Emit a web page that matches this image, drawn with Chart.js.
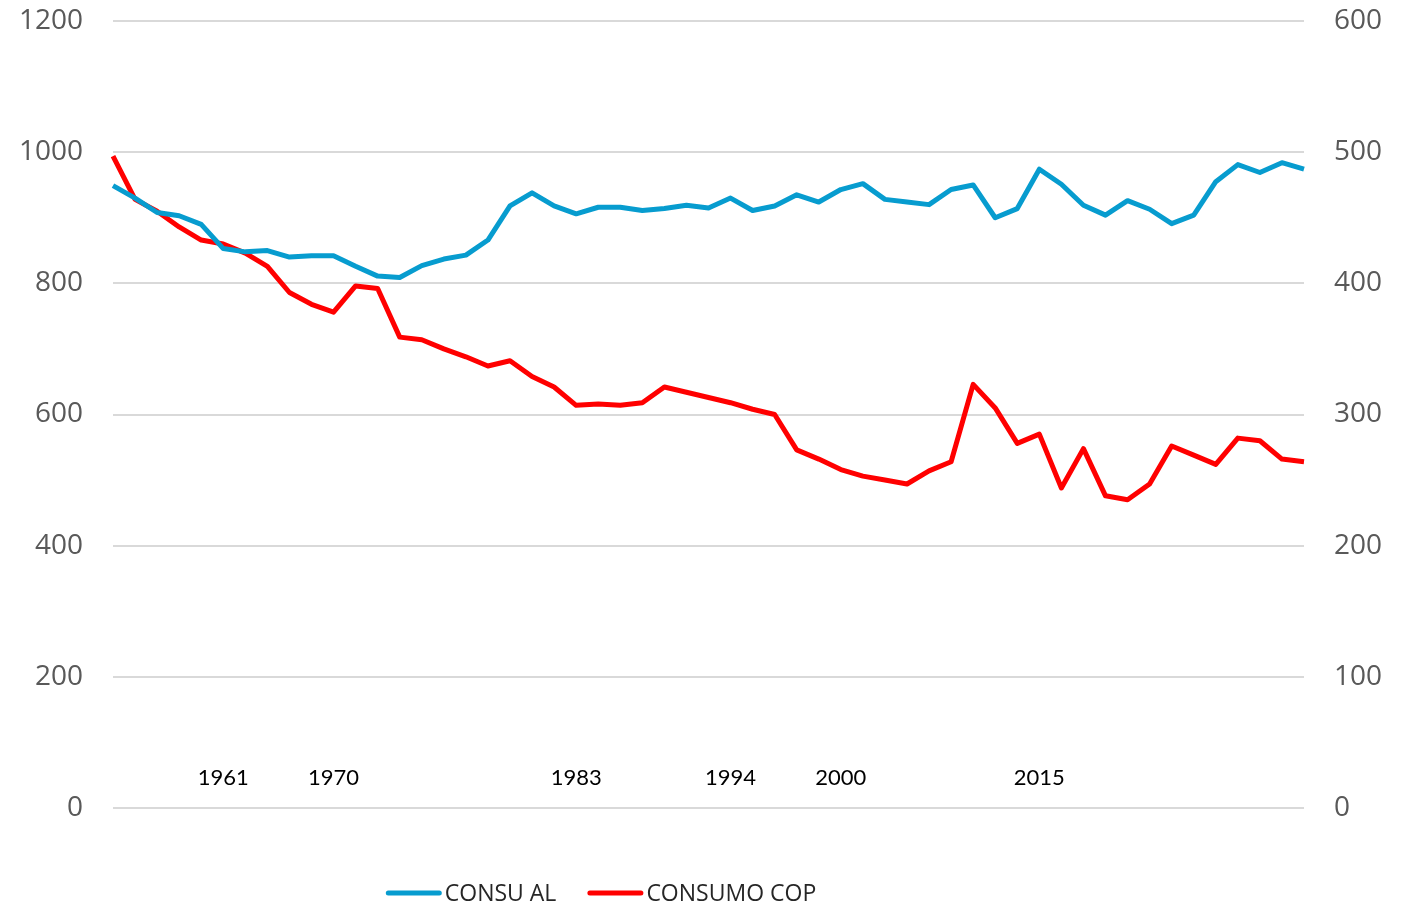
<!DOCTYPE html>
<html>
<head>
<meta charset="utf-8">
<script src="https://cdn.jsdelivr.net/npm/chart.js@4/dist/chart.umd.min.js"></script>
<style>
  html, body { margin: 0; padding: 0; background: #ffffff; }
  #wrap { width: 1412px; height: 904px; }
</style>
</head>
<body>
<div id="wrap"><canvas id="c" width="1412" height="904"></canvas></div>
<script>
// ---- data ----
const categories = [
  "", "", "", "", "", "1961", "", "", "", "", "1970", "", "", "", "",
  "", "", "", "", "", "", "1983", "", "", "", "", "", "", "1994", "",
  "", "", "", "2000", "", "", "", "", "", "", "", "", "2015", "", "",
  "", "", "", "", "", "", "", "", "", ""
];
const seriesNames = ["CONSU AL", "CONSUMO COP"];
const consuAl = [
  949, 930, 908, 903, 890, 853, 848, 850, 840, 842, 842, 826, 811, 809, 827,
  837, 843, 866, 918, 938, 918, 906, 916, 916, 911, 914, 919, 915, 930, 911,
  918, 935, 924, 943, 952, 928, 924, 920, 943, 950, 900, 914, 974, 951, 919,
  904, 926, 913, 891, 904, 955, 981, 969, 984, 974
];
const consumoCop = [
  497, 464, 455, 443, 433, 430, 423, 413, 393, 384, 378, 398, 396, 359, 357,
  350, 344, 337, 341, 329, 321, 307, 308, 307, 309, 321, 317, 313, 309, 304,
  300, 273, 266, 258, 253, 250, 247, 257, 264, 323, 305, 278, 285, 244, 274,
  238, 235, 247, 276, 269, 262, 282, 280, 266, 264
];
const leftTicks = { min: 0, max: 1200, step: 200 };
const rightTicks = { min: 0, max: 600, step: 100 };

// ---- styles ----
const BLUE = '#079CCF';
const RED = '#FF0000';
const GRID = '#D9D9D9';
const AXIS_TEXT = '#595959';

// custom legend drawn below the plot
const bottomLegend = {
  id: 'bottomLegend',
  afterDraw(chart) {
    const ctx = chart.ctx;
    const lineLen = 56, gap = 3, itemGap = 31, cy = 893, centerX = 601;
    ctx.save();
    ctx.font = '23px "Open Sans"';
    ctx.textBaseline = 'middle';
    const items = chart.data.datasets.map(ds => ({
      text: ds.label, color: ds.borderColor, w: ctx.measureText(ds.label).width
    }));
    let total = 0;
    items.forEach((it, i) => { total += lineLen + gap + it.w + (i ? itemGap : 0); });
    let x = centerX - total / 2;
    items.forEach(it => {
      ctx.strokeStyle = it.color;
      ctx.lineWidth = 5;
      ctx.lineCap = 'round';
      ctx.beginPath();
      ctx.moveTo(x + 2.5, cy);
      ctx.lineTo(x + lineLen - 2.5, cy);
      ctx.stroke();
      ctx.fillStyle = '#262626';
      ctx.textAlign = 'left';
      ctx.fillText(it.text, x + lineLen + gap, cy + 1);
      x += lineLen + gap + it.w + itemGap;
    });
    ctx.restore();
  }
};

function fixVertical(width) {
  return function (scale) {
    scale.width = width;
    scale.paddingTop = 0;
    scale.paddingBottom = 0;
  };
}

new Chart(document.getElementById('c'), {
  type: 'line',
  data: {
    labels: categories,
    datasets: [
      {
        label: seriesNames[0], data: consuAl, yAxisID: 'y',
        borderColor: BLUE, backgroundColor: BLUE, borderWidth: 5,
        pointRadius: 0, tension: 0, borderJoinStyle: 'round', fill: false
      },
      {
        label: seriesNames[1], data: consumoCop, yAxisID: 'y1',
        borderColor: RED, backgroundColor: RED, borderWidth: 5,
        pointRadius: 0, tension: 0, borderJoinStyle: 'round', fill: false
      }
    ]
  },
  options: {
    responsive: false,
    animation: false,
    events: [],
    layout: { padding: { top: 21, bottom: 96, left: 0, right: 0 } },
    plugins: { legend: { display: false }, tooltip: { enabled: false } },
    scales: {
      x: {
        type: 'category',
        axis: 'x',
        position: { y: 66 },
        offset: false,
        grid: { display: false, drawTicks: false },
        border: { display: false },
        ticks: {
          autoSkip: false, maxRotation: 0, minRotation: 0, padding: 0,
          color: '#000000', font: { family: 'Lato', size: 22 }
        }
      },
      y: {
        position: 'left',
        min: leftTicks.min, max: leftTicks.max,
        grid: { color: GRID, lineWidth: 2, drawTicks: false },
        border: { display: false },
        ticks: {
          stepSize: leftTicks.step, padding: 30, color: AXIS_TEXT,
          font: { family: 'Open Sans', size: 28 },
          callback: v => String(v)
        },
        afterFit: fixVertical(113)
      },
      y1: {
        position: 'right',
        min: rightTicks.min, max: rightTicks.max,
        grid: { drawOnChartArea: false, drawTicks: false },
        border: { display: false },
        ticks: {
          stepSize: rightTicks.step, padding: 30, color: AXIS_TEXT,
          font: { family: 'Open Sans', size: 28 },
          callback: v => String(v)
        },
        afterFit: fixVertical(108)
      }
    }
  },
  plugins: [bottomLegend]
});
</script>
</body>
</html>
